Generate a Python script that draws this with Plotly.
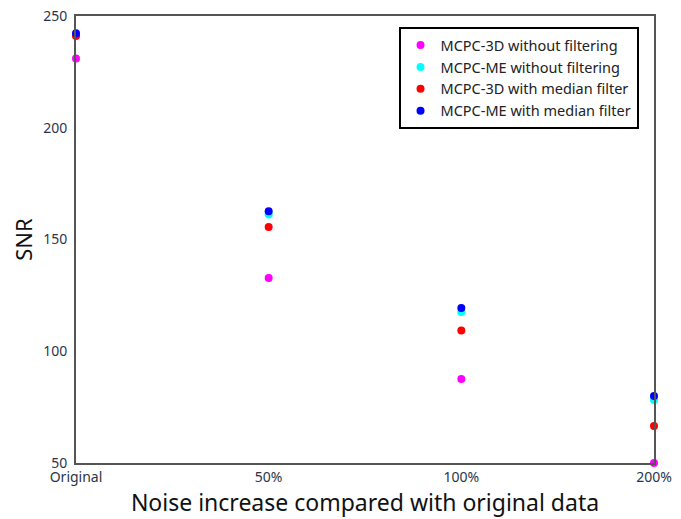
import plotly.graph_objects as go

categories = ["Original", "50%", "100%", "200%"]
x_pos = [0, 1, 2, 3]
series_names = [
    "MCPC-3D without filtering",
    "MCPC-ME without filtering",
    "MCPC-3D with median filter",
    "MCPC-ME with median filter",
]
mcpc3d_nofilt = [231, 132.8, 87.6, 50]
mcpcme_nofilt = [241.5, 161.2, 117.6, 78.2]
mcpc3d_median = [241, 155.6, 109.3, 66.6]
mcpcme_median = [242.3, 162.6, 119.4, 80]
colors = ["#ff00ff", "#00ffff", "#ff0000", "#0000ff"]
y_ticks = [50, 100, 150, 200, 250]

fig = go.Figure()
for name, vals, c in zip(series_names,
                         [mcpc3d_nofilt, mcpcme_nofilt, mcpc3d_median, mcpcme_median],
                         colors):
    fig.add_trace(go.Scatter(
        x=x_pos, y=vals, mode="markers", name=name,
        marker=dict(color=c, size=8, line=dict(width=0)),
        cliponaxis=False,
    ))

axis_color = "#555555"
font_fam = "Noto Sans, DejaVu Sans, sans-serif"
tick_font = dict(family=font_fam, size=14, color="#2b3548")

fig.update_layout(
    width=673, height=511,
    margin=dict(l=68, r=27, t=8, b=56),
    plot_bgcolor="white", paper_bgcolor="white",
    showlegend=True,
    legend=dict(
        x=0.558, y=0.975, xanchor="left", yanchor="top",
        bordercolor="black", borderwidth=2, bgcolor="white",
        font=dict(family=font_fam, size=14.5, color="#222222"),
        itemsizing="trace", tracegroupgap=0, itemwidth=30,
    ),
    xaxis=dict(
        range=[0, 3], tickmode="array", tickvals=x_pos, ticktext=categories,
        showgrid=False, zeroline=False, showline=True, linecolor=axis_color,
        linewidth=2, mirror=True, ticks="", tickfont=tick_font,
        automargin=False, ticklabelstandoff=0, ticklabeloverflow="allow",
        title=dict(text="Noise increase compared with original data",
                   font=dict(family=font_fam, size=23, color="#111111"),
                   standoff=4),
    ),
    yaxis=dict(
        range=[50, 250], tickmode="array", tickvals=y_ticks,
        showgrid=False, zeroline=False, showline=True, linecolor=axis_color,
        linewidth=2, mirror=True, ticks="", tickfont=tick_font,
        ticklabelstandoff=4, automargin=False, ticklabeloverflow="allow",
        title=dict(text="SNR",
                   font=dict(family=font_fam, size=22, color="#111111"),
                   standoff=10),
    ),
)

fig.write_html("out.html")
